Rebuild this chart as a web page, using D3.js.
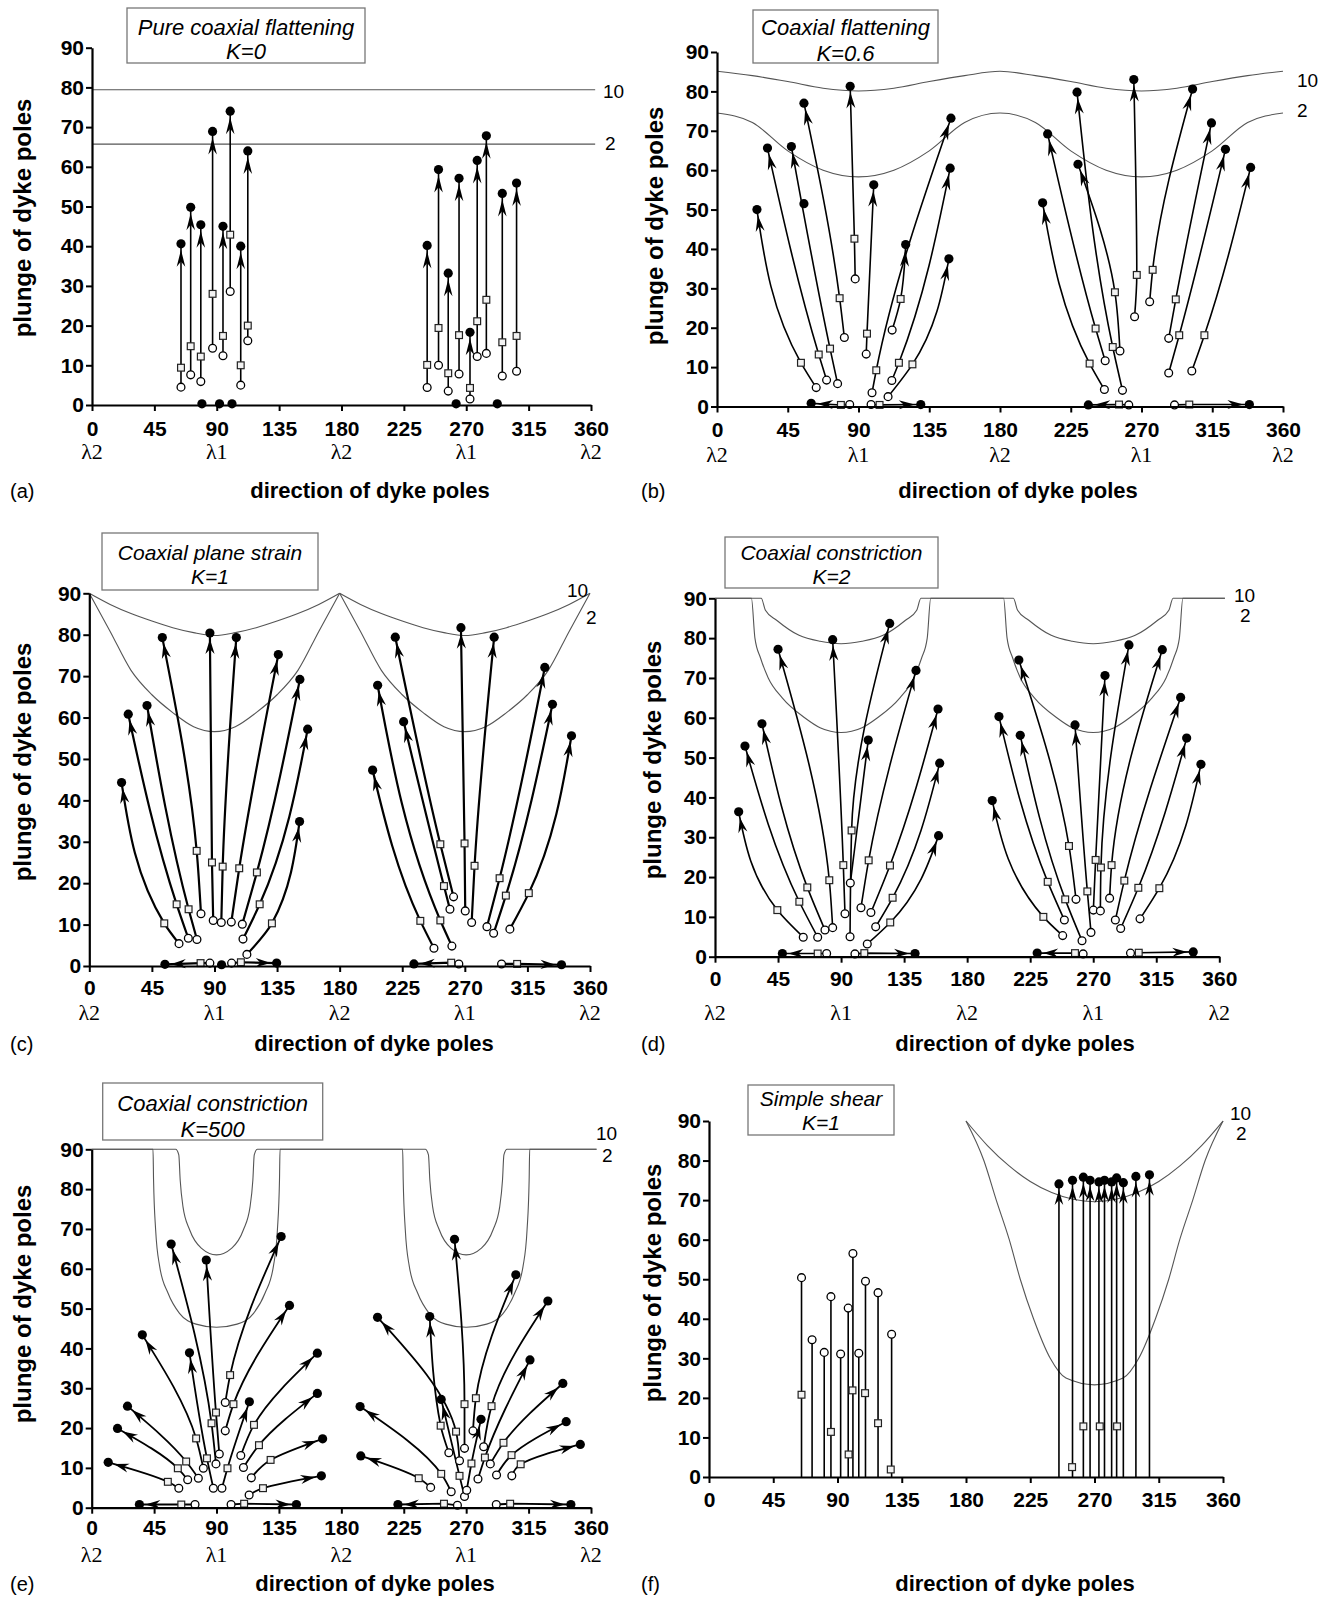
<!DOCTYPE html>
<html>
<head>
<meta charset="utf-8">
<script src="https://cdn.jsdelivr.net/npm/d3@7"></script>
<style>
  body { margin: 0; background: #fff; }
  svg { display: block; }
</style>
</head>
<body>
<div id="vis"></div>
<script>
// == DATA ==  directions in degrees, plunges in degrees
const dirTicks = [0, 45, 90, 135, 180, 225, 270, 315, 360];
const plungeTicks = [0, 10, 20, 30, 40, 50, 60, 70, 80, 90];
const lambdaTicks = [[0, "λ2"], [90, "λ1"], [180, "λ2"], [270, "λ1"], [360, "λ2"]];

// (a) pure flattening: [direction, start plunge, intermediate plunge, final plunge]
const dykesA = [
  [64.2, 4.5, 9.4, 40.6], [71.2, 7.6, 14.8, 49.8], [78.5, 5.9, 12.2, 45.4], [87.0, 14.3, 28, 68.9],
  [94.5, 12.4, 17.4, 45], [99.7, 28.6, 42.9, 74], [107.3, 5, 10, 40], [112.4, 16.2, 20, 64],
  [241.8, 4.4, 10.1, 40.2], [250, 10, 19.4, 59.3], [257, 3.5, 8, 33.2], [264.8, 7.8, 17.6, 57.1],
  [272.7, 1.5, 4.3, 18.3], [277.9, 12.2, 21.1, 61.6], [284.5, 13, 26.5, 67.8], [296, 7.3, 15.8, 53.3],
  [306.3, 8.5, 17.4, 55.9]
];
const zeroDotsA = [[79.3, 0.3], [92, 0.3], [101, 0.3], [262.7, 0.3], [292.4, 0.3]];
const refA10 = [[[0, 79.4], [363, 79.4]]];
const refA2 = [[[0, 65.7], [363, 65.7]]];

// (b)-(e): [start dir, start plunge, mid dir, mid plunge, end dir, end plunge]
const dykesB = [
  [63.1, 4.8, 53.4, 11.1, 25.4, 50.0], [69.7, 6.7, 64.7, 13.2, 32.1, 65.6], [76.7, 5.8, 71.9, 14.7, 47.3, 66],
  [81, 17.5, 78, 27.5, 55.3, 77], [87.9, 32.4, 87.4, 42.6, 84.7, 81.3], [94.9, 13.3, 95.4, 18.5, 99.7, 56.3],
  [98.6, 3.5, 101.3, 9.2, 148.8, 73.2], [111.2, 6.6, 115.7, 11.1, 148.3, 60.5], [108.8, 2.5, 124.3, 10.7, 147.5, 37.5],
  [111.4, 19.4, 116.8, 27.3, 120, 41.1],
  [246.4, 4.3, 237, 10.9, 207.1, 51.7], [246.9, 11.6, 240.8, 19.8, 210.3, 69.2], [257.9, 4.1, 251.7, 15.1, 229, 79.8],
  [256.3, 14.1, 253.1, 29, 229.6, 61.5], [265.6, 22.8, 267, 33.4, 265.1, 83], [275.2, 26.6, 277.1, 34.7, 302.5, 80.6],
  [287.3, 17.3, 291.8, 27.2, 314.5, 72], [287.3, 8.5, 294, 18.1, 323.4, 65.3], [302, 9.0, 310, 18.1, 339.4, 60.7]
];
const bottomB = [
  [84.4, 0.5, 78.8, 0.4, 59.9, 0.8], [98, 0.5, 103.4, 0.4, 129.6, 0.5],
  [261.9, 0.4, 255.7, 0.5, 236.2, 0.4], [291, 0.4, 300.4, 0.5, 338.6, 0.5]
];
const extraB = [[55.3, 51.5]];
const refB10 = [[[0, 85.1], [22.5, 84], [45, 82.5], [67.5, 80.8], [90, 80.1], [112.5, 80.8], [135, 82.5], [157.5, 84],
  [180, 85.1], [202.5, 84], [225, 82.5], [247.5, 80.8], [270, 80.1], [292.5, 80.8], [315, 82.5], [337.5, 84], [360, 85.1]]];
const refB2 = [[[0, 74.5], [22.5, 72.1], [45, 64.9], [67.5, 60], [90, 58.3], [112.5, 60], [135, 64.9], [157.5, 72.1],
  [180, 74.5], [202.5, 72.1], [225, 64.9], [247.5, 60], [270, 58.3], [292.5, 60], [315, 64.9], [337.5, 72.1], [360, 74.5]]];

const dykesC = [
  [64.5, 5.4, 53.9, 10.3, 23.2, 44.3], [71.2, 6.7, 62.8, 14.9, 28, 60.8], [77.4, 6.4, 71.4, 13.7, 41.5, 62.9],
  [80.3, 12.6, 77.2, 27.8, 52.5, 79.3], [89.1, 11, 88.2, 25, 86.7, 80.4], [94.9, 10.5, 95.9, 24, 105.7, 79.3],
  [102.1, 10.6, 107.8, 23.6, 135.9, 75.2], [110, 10.1, 120.5, 22.6, 151.4, 69.2], [110.5, 6.5, 122.5, 14.9, 157, 57.2],
  [113.3, 2.8, 131.3, 10.3, 151.2, 34.9],
  [247.8, 4.3, 238, 10.9, 203.7, 47.3], [260.7, 4.8, 252.4, 11, 207.3, 67.8], [259.3, 13.7, 255, 19.3, 226, 59],
  [261.9, 16.7, 252.4, 29.4, 220, 79.4], [270.3, 13.3, 269.8, 29.6, 267.2, 81.7], [274.9, 10.5, 277, 24.2, 291.1, 79.4],
  [285.9, 9.5, 295, 21.2, 327.5, 72.1], [290.7, 7.9, 299.5, 17, 333, 63.2], [302.4, 8.9, 316, 17.6, 346.7, 55.6]
];
const bottomC = [
  [86.7, 0.7, 80, 0.7, 54.4, 0.4], [102.3, 0.7, 109, 0.9, 134.7, 0.7],
  [265.7, 0.5, 260.2, 0.8, 233.4, 0.5], [296.4, 0.5, 307.6, 0.5, 339.5, 0.3]
];
const extraC = [[95.1, 0.3]];
const refC10 = [
  [[0, 90], [15, 87.3], [30, 85.1], [45, 83.3], [60, 81.7], [75, 80.5], [90, 79.8], [105, 80.5], [120, 81.7], [135, 83.3], [150, 85.1], [165, 87.3], [180, 90]],
  [[180, 90], [195, 87.3], [210, 85.1], [225, 83.3], [240, 81.7], [255, 80.5], [270, 79.8], [285, 80.5], [300, 81.7], [315, 83.3], [330, 85.1], [345, 87.3], [360, 90]]
];
const refC2 = [
  [[0, 90], [15, 80.8], [30, 71.4], [45, 65.5], [60, 61.2], [75, 57.8], [90, 56.6], [105, 57.8], [120, 61.2], [135, 65.5], [150, 71.4], [165, 80.8], [180, 90]],
  [[180, 90], [195, 80.8], [210, 71.4], [225, 65.5], [240, 61.2], [255, 57.8], [270, 56.6], [285, 57.8], [300, 61.2], [315, 65.5], [330, 71.4], [345, 80.8], [360, 90]]
];

const dykesD = [
  [63, 4.9, 44.5, 11.7, 16.9, 36.4], [73.3, 4.9, 60.2, 13.8, 21.4, 52.9], [78.5, 6.7, 65.9, 17.4, 33.5, 58.5],
  [84, 7.3, 81.6, 19.2, 45, 77.2], [92.8, 10.8, 91.6, 23, 84, 79.6], [96.4, 5, 97.5, 31.7, 124.7, 83.7],
  [96.6, 18.5, null, null, 109.4, 54.4], [104.2, 12.3, 109.7, 24.2, 143.5, 71.9], [111.3, 11.1, 124.9, 22.9, 159.2, 62.2],
  [114.7, 7.5, 126.8, 14.8, 160.4, 48.6], [108.7, 3.2, 125.1, 8.6, 159.6, 30.4],
  [248.2, 5.3, 234.4, 10, 197.9, 39.2], [249.4, 9.2, 237.5, 18.8, 202.7, 60.3], [262, 4, 250, 14.4, 217.9, 55.6],
  [257.7, 14.4, 252.7, 27.8, 216.9, 74.5], [268.4, 6.1, 265.8, 16.4, 257, 58.2], [270.1, 11.7, 271.7, 24.3, 278.4, 70.6],
  [275.1, 11.5, 275.5, 22.4, 295.5, 78.3], [281.7, 14.7, 283.1, 23, 319.3, 77.1], [285.8, 9.2, 292.2, 19.1, 332.4, 65.1],
  [289.6, 7.1, 302.2, 17.3, 336.7, 54.9], [303.4, 9.5, 317.2, 17.2, 346.9, 48.3]
];
const bottomD = [
  [79.7, 0.8, 73.3, 0.8, 48.1, 0.8], [99.9, 0.7, 106.6, 0.9, 142.8, 0.8],
  [262.8, 0.7, 257, 0.9, 230, 0.9], [296.6, 0.9, 302.5, 1, 341.4, 1.2]
];
const refD10 = [[[0, 90], [33, 90], [36, 87], [44, 84.5], [60, 80.7], [75, 79.2], [90, 78.6], [105, 79.2], [120, 80.7],
  [136, 84.5], [144, 87], [147, 90], [213, 90], [216, 87], [224, 84.5], [240, 80.7], [255, 79.2], [270, 78.6],
  [285, 79.2], [300, 80.7], [316, 84.5], [324, 87], [327, 90], [364, 90]]];
const refD2 = [[[0, 90], [26, 90], [28.5, 80], [32.5, 75], [38, 70], [48, 65], [64, 60], [75, 57.5], [90, 56.3],
  [105, 57.5], [116, 60], [132, 65], [142, 70], [147.5, 75], [151.5, 80], [154, 90], [206, 90], [208.5, 80],
  [212.5, 75], [218, 70], [228, 65], [244, 60], [255, 57.5], [270, 56.3], [285, 57.5], [296, 60], [312, 65],
  [322, 70], [327.5, 75], [331.5, 80], [334, 90], [364, 90]]];

const dykesE = [
  [62.8, 4.9, 54.9, 6.5, 11.9, 11.4], [69.2, 7, 62.1, 9.9, 18.6, 19.9], [76.9, 7.4, 68.1, 11.6, 25.8, 25.5],
  [80.5, 9.9, 75.3, 17.4, 36.5, 43.4], [87.7, 4.9, 83.1, 12.4, 70.5, 38.9], [89.6, 11, 86.4, 21.2, 57.3, 66.2],
  [92, 13.5, 89.6, 23.9, 82.6, 62.2], [93.9, 4.9, 97.9, 9.9, 113.7, 26.6], [96.3, 26.4, 99.8, 33.3, 136.6, 68.1],
  [96.3, 19.3, 102.2, 26, 142.6, 50.8], [107.5, 13.1, 117, 20.8, 162.7, 38.8], [109.4, 10.1, 120.6, 15.7, 162.7, 28.7],
  [115.1, 7.5, 129, 12, 166.5, 17.3], [113.5, 3.2, 123.5, 4.9, 165.6, 8],
  [244.4, 5.1, 235.8, 7.4, 194, 13], [259.2, 4, 252, 8.5, 193.5, 25.4], [265.2, 11.8, 262.7, 19.1, 206.1, 47.8],
  [257.5, 13.8, 251.6, 20.6, 243.7, 48], [268.8, 2.8, 265.2, 8, 252, 27.2], [268.8, 14.9, 268.8, 26, 261.6, 67.4],
  [270.4, 4.4, 273.8, 11.1, 280.7, 22.2], [274.9, 19.3, 277, 27.5, 305.8, 58.5], [278.5, 7.2, 283.5, 12.6, 316, 37.1],
  [282.6, 15.3, 288.3, 25.5, 328.9, 51.9], [287.4, 11, 296.9, 16.3, 339.7, 31.2], [291.9, 8.2, 302.7, 13.2, 342.1, 21.6],
  [302.9, 8, 309.3, 10.9, 352.3, 15.9]
];
const bottomE = [
  [74.5, 0.8, 64.6, 0.8, 34.4, 0.8], [100.5, 0.8, 109.9, 1, 147.6, 0.8],
  [263.7, 0.6, 254, 1, 220.8, 0.8], [291.7, 0.8, 301.7, 1, 345.5, 0.8]
];
const refE10 = [[[0, 90], [60.5, 90], [62.8, 88.6], [63.8, 82.3], [65.8, 75.6], [70.6, 69.8], [79, 65.2], [90, 63.5],
  [101, 65.2], [109.4, 69.8], [114.2, 75.6], [116.2, 82.3], [117.2, 88.6], [119.5, 90], [240.5, 90], [242.8, 88.6],
  [243.8, 82.3], [245.8, 75.6], [250.6, 69.8], [259, 65.2], [270, 63.5], [281, 65.2], [289.4, 69.8], [294.2, 75.6],
  [296.2, 82.3], [297.2, 88.6], [299.5, 90], [364, 90]]];
const refE2 = [[[0, 90], [44.2, 90], [44.6, 82.3], [46.1, 69.8], [49, 60.6], [55, 53.9], [63.3, 48.8], [75.2, 46.1],
  [90, 45.3], [104.8, 46.1], [116.7, 48.8], [125, 53.9], [131, 60.6], [133.9, 69.8], [135.4, 82.3], [135.8, 90],
  [224.2, 90], [224.6, 82.3], [226.1, 69.8], [229, 60.6], [235, 53.9], [243.3, 48.8], [255.2, 46.1], [270, 45.3],
  [284.8, 46.1], [296.7, 48.8], [305, 53.9], [311, 60.6], [313.9, 69.8], [315.4, 82.3], [315.8, 90], [364, 90]]];

// (f) simple shear
const fStemDir = [64.8, 72.2, 80.7, 85.4, 92.2, 97.5, 100.8, 104.9, 109.6, 118.4, 127.9];
const fStemPlunge = [50.4, 34.7, 31.5, 45.6, 31.1, 42.7, 56.5, 31.3, 49.5, 46.6, 36.1];
const fStemSquares = [[64.8, 20.8], [85.4, 11.4], [97.8, 5.7], [100.5, 21.9], [109.3, 21.2], [118.4, 13.6], [127.3, 1.9]];
const fArrowDir = [245.1, 254.6, 262.2, 266.9, 273.1, 277, 282, 285.5, 290.2, 299, 308.5];
const fArrowPlunge = [74.1, 75, 75.8, 75, 74.6, 75, 74.6, 75.6, 74.4, 76, 76.4];
const fArrowSquares = [[254.3, 2.5], [262.2, 12.8], [273.7, 12.8], [285.8, 12.8]];
const refF10 = [[[180, 90], [195, 83.8], [210, 78.7], [225, 74.7], [240, 71.9], [255, 70.2], [270, 69.6],
  [285, 70.2], [300, 71.9], [315, 74.7], [330, 78.7], [345, 83.8], [360, 90]]];
const refF2 = [[[180, 90], [192.5, 80], [201.2, 70], [210.3, 60], [218, 50], [227.3, 40], [239, 30], [250, 25],
  [270, 23.3], [290, 25], [301, 30], [312.7, 40], [322, 50], [329.7, 60], [338.8, 70], [347.5, 80], [360, 90]]];

// == LAYOUT ==
const SANS = "'Liberation Sans', Arial, Helvetica, sans-serif";
const SERIF = "'Liberation Serif', 'Times New Roman', serif";

const svg = d3.select("#vis").append("svg")
  .attr("width", 1322).attr("height", 1599)
  .style("font-family", SANS);
svg.append("rect").attr("width", 1322).attr("height", 1599).attr("fill", "#fff");

const toSeg = d => d[2] == null ? [[d[0], d[1]], [d[4], d[5]]] : [[d[0], d[1]], [d[2], d[3]], [d[4], d[5]]];

function arrowHead(g, node, len, hw) {
  const L = node.getTotalLength();
  const tipAt = Math.max(L - 6, 1);
  const tip = node.getPointAtLength(tipAt);
  const back = node.getPointAtLength(Math.max(tipAt - len, 0));
  let dx = tip.x - back.x, dy = tip.y - back.y;
  const n = Math.hypot(dx, dy) || 1;
  dx /= n; dy /= n;
  const bx = tip.x - dx * len, by = tip.y - dy * len;
  const nx = -dy, ny = dx;
  const mx = tip.x - dx * len * 0.68, my = tip.y - dy * len * 0.68;
  g.append("path")
    .attr("d", `M${tip.x},${tip.y}L${bx + nx * hw},${by + ny * hw}L${mx},${my}L${bx - nx * hw},${by - ny * hw}Z`)
    .attr("fill", "#000");
}

function drawPanel(p) {
  const x = d3.scaleLinear().domain([0, 360]).range([p.left, p.right]);
  const y = d3.scaleLinear().domain([0, 90]).range([p.bottom, p.top]);
  const g = svg.append("g");
  const refLayer = g.append("g");
  const lineLayer = g.append("g");
  const markLayer = g.append("g");

  // reference curves for 10 and 2
  const refLine = d3.line().x(d => x(d[0])).y(d => y(d[1])).curve(d3.curveMonotoneX);
  p.refs.forEach(segs => segs.forEach(seg => {
    refLayer.append("path").attr("d", refLine(seg))
      .attr("fill", "none").attr("stroke", "#555").attr("stroke-width", 1.1);
  }));
  p.refLabels.forEach(r => {
    g.append("text").attr("x", r[0]).attr("y", r[1]).attr("font-size", 19).text(r[2]);
  });

  // axes
  const xa = g.append("g").attr("transform", `translate(0,${p.bottom})`)
    .call(d3.axisBottom(x).tickValues(dirTicks).tickSize(6).tickSizeOuter(0).tickPadding(p.xPad));
  const ya = g.append("g").attr("transform", `translate(${p.left},0)`)
    .call(d3.axisLeft(y).tickValues(plungeTicks).tickSize(6).tickSizeOuter(0).tickPadding(2));
  [xa, ya].forEach(a => {
    a.select(".domain").attr("stroke", "#000").attr("stroke-width", 2.2);
    a.selectAll(".tick line").attr("stroke", "#000").attr("stroke-width", 2);
    a.selectAll(".tick text").attr("font-family", SANS).attr("font-weight", "bold")
      .attr("font-size", 21).attr("fill", "#000");
  });

  if (p.lambda) {
    lambdaTicks.forEach(l => {
      g.append("text").attr("x", x(l[0])).attr("y", p.lambdaY).attr("text-anchor", "middle")
        .attr("font-family", SERIF).attr("font-size", 22).text(l[1]);
    });
  }

  // titles
  g.append("text").attr("x", p.xTitle[0]).attr("y", p.xTitle[1]).attr("text-anchor", "middle")
    .attr("font-weight", "bold").attr("font-size", 22).text("direction of dyke poles");
  g.append("text").attr("transform", `translate(${p.yTitle[0]},${p.yTitle[1]}) rotate(-90)`)
    .attr("text-anchor", "middle").attr("font-weight", "bold").attr("font-size", 24).text("plunge of dyke poles");
  g.append("text").attr("x", p.letter[0]).attr("y", p.letter[1]).attr("font-size", 20).text(p.letter[2]);

  // strain box
  g.append("rect").attr("x", p.box[0]).attr("y", p.box[1])
    .attr("width", p.box[2] - p.box[0]).attr("height", p.box[3] - p.box[1])
    .attr("fill", "#fff").attr("stroke", "#777").attr("stroke-width", 1.3);
  p.title.forEach((t, i) => {
    g.append("text").attr("x", (p.box[0] + p.box[2]) / 2).attr("y", p.box[1] + p.titleDy[i])
      .attr("text-anchor", "middle").attr("font-style", "italic").attr("font-size", p.titleSize || 22).text(t);
  });

  // dyke paths: start (open) -> intermediate (square) -> final (filled)
  const curveLine = d3.line().x(d => x(d[0])).y(d => y(d[1])).curve(p.curve || d3.curveMonotoneY);
  const flatLine = d3.line().x(d => x(d[0])).y(d => y(d[1]));
  const all = [];
  (p.dykes || []).forEach(d => {
    const path = lineLayer.append("path").attr("d", curveLine(toSeg(d)))
      .attr("fill", "none").attr("stroke", "#000").attr("stroke-width", p.lw);
    arrowHead(lineLayer, path.node(), p.ah[0], p.ah[1]);
    all.push(d);
  });
  (p.bottoms || []).forEach(d => {
    const path = lineLayer.append("path").attr("d", flatLine(toSeg(d)))
      .attr("fill", "none").attr("stroke", "#000").attr("stroke-width", p.lw);
    arrowHead(lineLayer, path.node(), p.ah[0], p.ah[1]);
    all.push(d);
  });

  const openDot = (a, b) => markLayer.append("circle").attr("cx", x(a)).attr("cy", y(b)).attr("r", 3.9)
    .attr("fill", "#fff").attr("stroke", "#000").attr("stroke-width", 1.3);
  const square = (a, b) => markLayer.append("rect").attr("x", x(a) - 3.4).attr("y", y(b) - 3.4)
    .attr("width", 6.8).attr("height", 6.8).attr("fill", "#f2f2f2").attr("stroke", "#222").attr("stroke-width", 1.2);
  const fullDot = (a, b) => markLayer.append("circle").attr("cx", x(a)).attr("cy", y(b)).attr("r", 4.6).attr("fill", "#000");

  all.forEach(d => {
    openDot(d[0], d[1]);
    if (d[2] != null) square(d[2], d[3]);
    fullDot(d[4], d[5]);
  });
  (p.extraFilled || []).forEach(d => fullDot(d[0], d[1]));

  return { x, y, lineLayer, openDot, square, fullDot };
}

// (a)
drawPanel({
  left: 92, right: 591, top: 47.7, bottom: 405, xPad: 10,
  lambda: true, lambdaY: 459, xTitle: [370, 498], yTitle: [31, 218], letter: [10, 498, "(a)"],
  box: [127, 8, 365, 63], title: ["Pure coaxial flattening", "K=0"], titleDy: [27, 51],
  refs: [refA10, refA2], refLabels: [[603, 98, "10"], [605, 150, "2"]],
  dykes: dykesA.map(d => [d[0], d[1], d[0], d[2], d[0], d[3]]), curve: d3.curveLinear,
  lw: 1.6, ah: [17, 4.3], extraFilled: zeroDotsA
});

// (b)
drawPanel({
  left: 717, right: 1283, top: 52, bottom: 406.5, xPad: 10,
  lambda: true, lambdaY: 462, xTitle: [1018, 498], yTitle: [663, 226], letter: [641, 498, "(b)"],
  box: [753, 10, 938, 63], title: ["Coaxial flattening", "K=0.6"], titleDy: [25, 51],
  refs: [refB10, refB2], refLabels: [[1297, 87, "10"], [1297, 117, "2"]],
  dykes: dykesB, bottoms: bottomB, lw: 1.6, ah: [16, 4.5], extraFilled: extraB
});

// (c)
drawPanel({
  left: 89.3, right: 590, top: 593.3, bottom: 966, xPad: 8,
  lambda: true, lambdaY: 1020, xTitle: [374, 1051], yTitle: [31, 762], letter: [10, 1051, "(c)"],
  box: [102, 533, 318, 590], title: ["Coaxial plane strain", "K=1"], titleDy: [27, 51], titleSize: 21,
  refs: [refC10, refC2], refLabels: [[567, 597, "10"], [586, 624, "2"]],
  dykes: dykesC, bottoms: bottomC, lw: 2.2, ah: [15, 4.6], extraFilled: extraC
});

// (d)
drawPanel({
  left: 715, right: 1219.3, top: 598.3, bottom: 956.7, xPad: 8,
  lambda: true, lambdaY: 1020, xTitle: [1015, 1051], yTitle: [661, 760], letter: [641, 1051, "(d)"],
  box: [725, 537, 938, 588], title: ["Coaxial constriction", "K=2"], titleDy: [23, 47], titleSize: 21,
  refs: [refD10, refD2], refLabels: [[1234, 602, "10"], [1240, 622, "2"]],
  dykes: dykesD, bottoms: bottomD, lw: 1.6, ah: [15, 4.6]
});

// (e)
drawPanel({
  left: 91.7, right: 591, top: 1149.3, bottom: 1507.7, xPad: 6,
  lambda: true, lambdaY: 1562, xTitle: [375, 1591], yTitle: [31, 1304], letter: [10, 1591, "(e)"],
  box: [102.7, 1083, 322.7, 1140], title: ["Coaxial constriction", "K=500"], titleDy: [28, 54],
  refs: [refE10, refE2], refLabels: [[596, 1140, "10"], [602, 1162, "2"]],
  dykes: dykesE, bottoms: bottomE, lw: 1.8, ah: [15, 4.6]
});

// (f) simple shear: stems without rotation, vertical arrows on the right
const pf = drawPanel({
  left: 709, right: 1223, top: 1121, bottom: 1477, xPad: 9,
  lambda: false, xTitle: [1015, 1591], yTitle: [661, 1283], letter: [641, 1591, "(f)"],
  box: [748, 1085, 894, 1135], title: ["Simple shear", "K=1"], titleDy: [21, 45], titleSize: 21,
  refs: [refF10, refF2], refLabels: [[1230, 1120, "10"], [1236, 1140, "2"]],
  lw: 1.5, ah: [15, 4.3]
});
fStemDir.forEach((dir, i) => {
  pf.lineLayer.append("line").attr("x1", pf.x(dir)).attr("x2", pf.x(dir))
    .attr("y1", pf.y(0)).attr("y2", pf.y(fStemPlunge[i])).attr("stroke", "#000").attr("stroke-width", 1.6);
  pf.openDot(dir, fStemPlunge[i]);
});
fArrowDir.forEach((dir, i) => {
  const path = pf.lineLayer.append("path")
    .attr("d", d3.line()([[pf.x(dir), pf.y(0)], [pf.x(dir), pf.y(fArrowPlunge[i])]]))
    .attr("stroke", "#000").attr("stroke-width", 1.6).attr("fill", "none");
  arrowHead(pf.lineLayer, path.node(), 15, 4.3);
  pf.fullDot(dir, fArrowPlunge[i]);
});
fStemSquares.concat(fArrowSquares).forEach(s => pf.square(s[0], s[1]));
</script>
</body>
</html>
